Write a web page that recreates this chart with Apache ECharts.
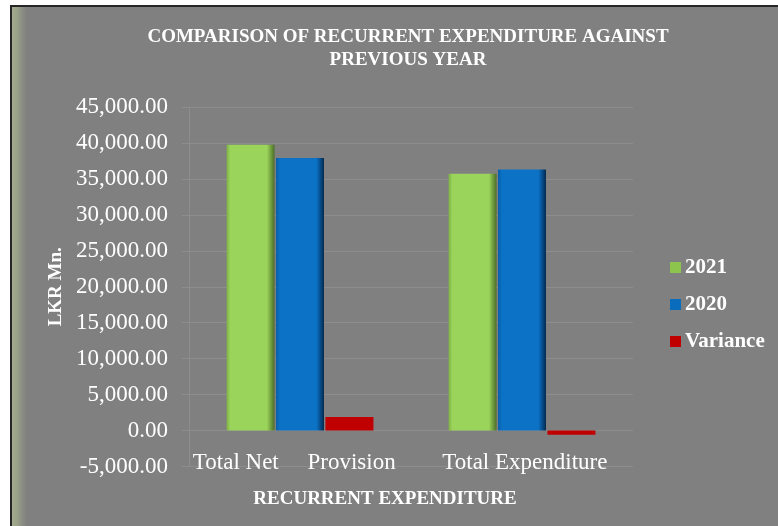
<!DOCTYPE html>
<html>
<head>
<meta charset="utf-8">
<script src="https://cdn.jsdelivr.net/npm/echarts@6/dist/echarts.min.js"></script>
<style>
  html, body { margin: 0; padding: 0; background: #fff; }
  #frame {
    position: absolute; left: 10px; top: 5px; width: 768px; height: 521px;
    border-top: 2px solid #262626; border-left: 2px solid #262626;
    background: linear-gradient(to right, #a4ac8f 0px, #9aa288 5px, #8a8e84 10px, #808080 15px);
  }
  #chart { position: absolute; left: 0; top: 0; width: 778px; height: 526px; }
</style>
</head>
<body>
<div id="frame"></div>
<div id="chart"></div>
<script>
// data
const categories = ['Total Net Provision', 'Total Expenditure'];
const values2021 = [39750, 35700];
const values2020 = [37900, 36300];
const variance = [1900, -600];

const serif = 'Liberation Serif, Times New Roman, serif';

function fmt(v) {
  const neg = v < 0;
  const s = Math.abs(v).toFixed(2).split('.');
  const int = s[0].replace(/\B(?=(\d{3})+(?!\d))/g, ',');
  return (neg ? '-' : '') + int + '.' + s[1];
}

function bevel(dark, face, edge, deep) {
  return new echarts.graphic.LinearGradient(0, 0, 1, 0, [
    { offset: 0, color: dark },
    { offset: 0.08, color: face },
    { offset: 0.84, color: face },
    { offset: 0.93, color: edge },
    { offset: 1, color: deep },
  ]);
}

let chartDom = document.getElementById('chart');
let myChart = echarts.init(chartDom);
var option;
option = {
  backgroundColor: 'transparent',
  animation: false,
  title: [
    {
      text: 'COMPARISON OF RECURRENT EXPENDITURE AGAINST\nPREVIOUS YEAR',
      left: 403,
      top: 21,
      textAlign: 'center',
      textStyle: {
        fontFamily: serif,
        fontWeight: 'bold',
        fontSize: 19,
        lineHeight: 23,
        color: '#ffffff',
      },
    },
    {
      text: 'RECURRENT EXPENDITURE',
      left: 380,
      top: 485,
      textAlign: 'center',
      textStyle: {
        fontFamily: serif,
        fontWeight: 'bold',
        fontSize: 19,
        color: '#ffffff',
      },
    },
  ],
  legend: {
    orient: 'vertical',
    left: 665,
    top: 252,
    itemWidth: 11,
    itemHeight: 11,
    itemGap: 16,
    icon: 'rect',
    textStyle: {
      fontFamily: serif,
      fontWeight: 'bold',
      fontSize: 21,
      color: '#ffffff',
      padding: [0, 0, 0, -1],
    },
    data: [
      { name: '2021', itemStyle: { color: '#8cc44e' } },
      { name: '2020', itemStyle: { color: '#0a6cbd' } },
      { name: 'Variance', itemStyle: { color: '#c00000' } },
    ],
  },
  grid: {
    left: 189,
    right: 145,
    top: 107,
    bottom: 59.5,
  },
  xAxis: {
    type: 'category',
    data: categories,
    axisLine: { show: false, onZero: false },
    axisTick: { show: false },
    axisLabel: {
      interval: 0,
      hideOverlap: false,
      margin: -15,
      fontFamily: serif,
      fontSize: 23,
      color: '#ffffff',
      formatter: (v) => v === 'Total Net Provision' ? 'Total Net     Provision  ' : ' ' + v,
    },
  },
  yAxis: {
    type: 'value',
    min: -5000,
    max: 45000,
    interval: 5000,
    name: 'LKR Mn.',
    nameLocation: 'middle',
    nameGap: 120,
    nameTextStyle: {
      fontFamily: serif,
      fontWeight: 'bold',
      fontSize: 19,
      color: '#ffffff',
    },
    axisLine: { show: true, lineStyle: { color: '#8d8d8d' } },
    axisTick: { show: true, length: 7, lineStyle: { color: '#8d8d8d' } },
    splitLine: { show: true, lineStyle: { color: '#8d8d8d' } },
    axisLabel: {
      margin: 21,
      fontFamily: serif,
      fontSize: 23,
      color: '#ffffff',
      formatter: fmt,
    },
  },
  series: [
    {
      name: '2021',
      type: 'bar',
      barWidth: 48,
      barGap: '3%',
      data: values2021,
      itemStyle: { color: bevel('#7fb148', '#9bd45b', '#6e9a3c', '#4d6d29') },
    },
    {
      name: '2020',
      type: 'bar',
      barWidth: 48,
      barGap: '3%',
      data: values2020,
      itemStyle: { color: bevel('#0b5ea6', '#0b72c6', '#064a86', '#032a4d') },
    },
    {
      name: 'Variance',
      type: 'bar',
      barWidth: 48,
      barGap: '3%',
      data: variance,
      itemStyle: { color: '#c00000' },
    },
  ],
};

option && myChart.setOption(option);
</script>
</body>
</html>
